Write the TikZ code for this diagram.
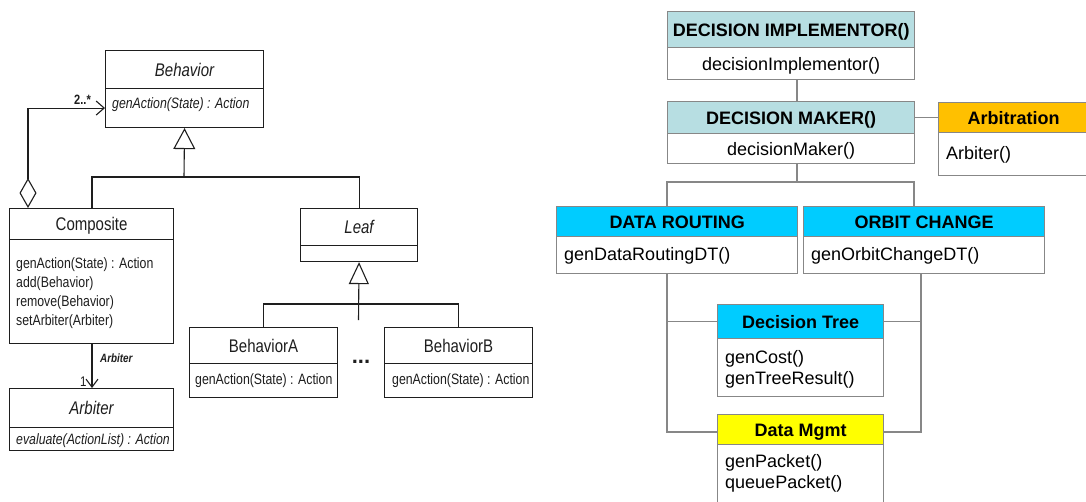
\documentclass[tikz,border=0pt]{standalone}
\usepackage{fontspec}
\setmainfont{Liberation Sans}
\newfontfamily\umlfont[FakeStretch=0.82]{Liberation Sans}
\usetikzlibrary{arrows.meta}

\definecolor{hdrTeal}{RGB}{183,222,226}
\definecolor{hdrCyan}{RGB}{0,204,255}
\definecolor{hdrGold}{RGB}{255,192,0}
\definecolor{hdrYellow}{RGB}{255,255,0}
\definecolor{edgeGray}{RGB}{135,135,135}
\definecolor{umlInk}{RGB}{30,30,30}

\begin{document}
\begin{tikzpicture}[x=1pt,y=-1pt,
  % UML class diagram (left)
  umlbox/.style={draw=umlInk, line width=1.1pt, fill=white, rectangle,
    inner sep=0pt, anchor=north west, text=umlInk},
  umltitle/.style={font=\umlfont\fontsize{18.3}{21}\selectfont, text height=13.1pt, text depth=0pt},
  umlmeth/.style={font=\umlfont\fontsize{15}{17}\selectfont, inner sep=0pt, anchor=base west, text=umlInk},
  umlline/.style={draw=umlInk, line width=1.1pt},
  % decision architecture (right)
  archbox/.style={draw=edgeGray, line width=1.3pt, fill=white, rectangle,
    inner sep=0pt, anchor=north west, text=black},
  archhdr/.style={archbox, font=\bfseries\fontsize{18}{21}\selectfont, text height=12.9pt, text depth=0pt},
  archtxt/.style={font=\fontsize{18}{21}\selectfont, inner sep=0pt, anchor=base west},
  conn/.style={draw=edgeGray, line width=1.2pt},
]
\clip (0,0) rectangle (1086,501);
\fill[white] (0,0) rectangle (1086,501);

% ---------------- UML composite pattern ----------------
\node[umlbox, umltitle, minimum width=158pt, minimum height=38pt] (behh) at (105,50) {\itshape Behavior};
\node[umlbox, minimum width=158pt, minimum height=39pt] (behb) at (105,88) {};
\node[umlmeth] (behm) at (112,108) {\itshape genAction(State) : Action};

\node[umlbox, umltitle, minimum width=164pt, minimum height=31pt] (comph) at (9,208) {Composite};
\node[umlbox, minimum width=164pt, minimum height=104pt] (compb) at (9,239) {};
\node[umlmeth] (compm1) at (16,268) {genAction(State) : Action};
\node[umlmeth] (compm2) at (16,287) {add(Behavior)};
\node[umlmeth] (compm3) at (16,306) {remove(Behavior)};
\node[umlmeth] (compm4) at (16,325) {setArbiter(Arbiter)};

\node[umlbox, umltitle, minimum width=164pt, minimum height=39pt] (arbh) at (9,388) {\itshape Arbiter};
\node[umlbox, minimum width=164pt, minimum height=23pt] (arbb) at (9,427) {};
\node[umlmeth] (arbm) at (16,444) {\itshape evaluate(ActionList) : Action};

\node[umlbox, umltitle, minimum width=117pt, minimum height=37pt] (leafh) at (300,208) {\itshape Leaf};
\node[umlbox, minimum width=117pt, minimum height=16pt] (leafb) at (300,245) {};

\node[umlbox, umltitle, minimum width=148pt, minimum height=36pt] (bah) at (189,327) {BehaviorA};
\node[umlbox, minimum width=148pt, minimum height=34pt] (bab) at (189,363) {};
\node[umlmeth] (bam) at (195,384) {genAction(State) : Action};

\node[umlbox, umltitle, minimum width=148pt, minimum height=36pt] (bbh) at (384,327) {BehaviorB};
\node[umlbox, minimum width=148pt, minimum height=34pt] (bbb) at (384,363) {};
\node[umlmeth] (bbm) at (392,384) {genAction(State) : Action};

\node[inner sep=0pt, anchor=base, text=umlInk, font=\bfseries\fontsize{22}{24}\selectfont] (dots) at (361,363) {...};

% aggregation: Composite holds 2..* behaviors
\draw[umlline, {Diamond[open,length=30pt,width=17pt]}-{Straight Barb[length=8pt,width=14pt]}]
  ([xshift=19pt]comph.north west) |- (behb.west);
\node[inner sep=0pt, anchor=base west, text=umlInk, font=\umlfont\bfseries\fontsize{13.5}{15}\selectfont] (mult) at (74,104) {2..*};

% generalization: Composite and Leaf derive from Behavior
\coordinate (genjoin) at (184,177);
\draw[umlline] ([xshift=83pt]comph.north west) |- (genjoin) -| (leafh.north);
\draw[umlline, -{Triangle[open,length=21pt,width=22pt]}] (genjoin) -- (behb.south);

% generalization: BehaviorA and BehaviorB derive from Leaf
\coordinate (leafjoin) at (358.5,304);
\coordinate (leafstem) at (358.5,320);
\draw[umlline] (bah.north) |- (leafjoin) -| (bbh.north);
\draw[umlline, -{Triangle[open,length=22pt,width=20pt]}] (leafstem) -- (leafb.south);

% association: Composite -> Arbiter
\draw[umlline, -{Straight Barb[length=8pt,width=12pt]}] ([xshift=83pt]compb.south west) -- ([xshift=83pt]arbh.north west);
\node[inner sep=0pt, anchor=base west, text=umlInk, font=\umlfont\itshape\bfseries\fontsize{12}{13}\selectfont] (rolelbl) at (100,362) {Arbiter};
\node[inner sep=0pt, anchor=base west, text=umlInk, font=\umlfont\fontsize{14}{15}\selectfont] (onelbl) at (80,386) {1};

% ---------------- decision architecture ----------------
\node[archhdr, fill=hdrTeal, minimum width=247pt, minimum height=36pt] (dih) at (667,11) {DECISION IMPLEMENTOR()};
\node[archbox, font=\fontsize{18}{21}\selectfont, text height=12.9pt, text depth=0pt, minimum width=247pt, minimum height=32pt] (dib) at (667,47) {decisionImplementor()};

\node[archhdr, fill=hdrTeal, minimum width=247pt, minimum height=32pt] (dmh) at (667,101) {DECISION MAKER()};
\node[archbox, font=\fontsize{18}{21}\selectfont, text height=12.9pt, text depth=0pt, minimum width=247pt, minimum height=30pt] (dmb) at (667,133) {decisionMaker()};

\node[archhdr, fill=hdrGold, minimum width=170pt, minimum height=30pt, text width=150pt, align=center] (arbith) at (938,102) {\hspace*{-20pt}Arbitration};
\node[archbox, minimum width=170pt, minimum height=43pt] (arbitb) at (938,132) {};
\node[archtxt] (arbitm) at (946,159) {Arbiter()};

\node[archhdr, fill=hdrCyan, minimum width=241pt, minimum height=30pt] (drh) at (556,206) {DATA ROUTING};
\node[archbox, minimum width=241pt, minimum height=37pt] (drb) at (556,236) {};
\node[archtxt] (drm) at (564,260) {genDataRoutingDT()};

\node[archhdr, fill=hdrCyan, minimum width=241pt, minimum height=30pt] (och) at (803,206) {ORBIT CHANGE};
\node[archbox, minimum width=241pt, minimum height=37pt] (ocb) at (803,236) {};
\node[archtxt] (ocm) at (811,260) {genOrbitChangeDT()};

\node[archhdr, fill=hdrCyan, minimum width=166pt, minimum height=34pt] (dth) at (717,304) {Decision Tree};
\node[archbox, minimum width=166pt, minimum height=58pt] (dtb) at (717,338) {};
\node[archtxt] (dtm1) at (725,363) {genCost()};
\node[archtxt] (dtm2) at (725,384) {genTreeResult()};

\node[archhdr, fill=hdrYellow, minimum width=166pt, minimum height=30pt] (dmgh) at (717,414) {Data Mgmt};
\node[archbox, minimum width=166pt, minimum height=80pt] (dmgb) at (717,444) {};
\node[archtxt] (dmgm1) at (725,467) {genPacket()};
\node[archtxt] (dmgm2) at (725,488) {queuePacket()};

% connectors
\draw[conn] ([xshift=130pt]dib.south west) -- ([xshift=130pt]dmh.north west);
\draw[conn] (dmh.east) -- (arbith.west);
\coordinate (split) at (797,182);
\draw[conn] ([xshift=130pt]dmb.south west) -- (split);
\draw[conn] ([xshift=111pt]drh.north west) |- (split) -| ([xshift=111pt]och.north west);

\coordinate (lrail) at (667,432);
\coordinate (rrail) at (921,432);
\draw[conn] ([xshift=111pt]drb.south west) |- (dmgh.west |- lrail);
\draw[conn] (dth.west) -- (dth.west -| lrail);
\draw[conn] ([xshift=118pt]ocb.south west) |- (dmgh.east |- rrail);
\draw[conn] (dth.east) -- (dth.east -| rrail);
\end{tikzpicture}
\end{document}
